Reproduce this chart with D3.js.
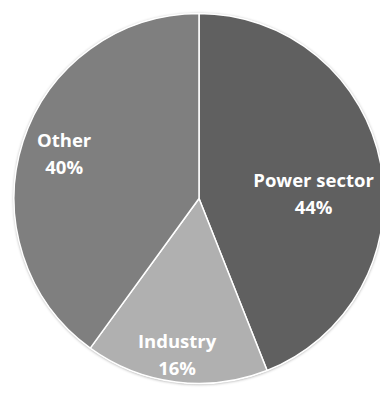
<!DOCTYPE html>
<html>
<head>
<meta charset="utf-8">
<script src="https://cdn.jsdelivr.net/npm/d3@7"></script>
<style>
  html, body { margin: 0; padding: 0; background: #fff; }
  svg { display: block; }
</style>
</head>
<body>
<svg id="chart" width="380" height="393"></svg>
<script>
// Shares by sector (percent)
const categories = ["Power sector", "Industry", "Other"];
const values = [44, 16, 40];
const colors = ["#606060", "#b0b0b0", "#7f7f7f"];
// Label placement inside each slice: angle shift (deg) from the slice middle, radius as fraction of R
const labelLayout = [
  { shift: 8.0, r: 0.62 },
  { shift: 0.8, r: 0.85 },
  { shift: 0.8, r: 0.77 }
];

const width = 380, height = 393;
const cx = 199, cy = 198.5, R = 185;

const svg = d3.select("#chart");

const defs = svg.append("defs");
const shadow = defs.append("filter")
  .attr("id", "soft-shadow")
  .attr("x", "-10%").attr("y", "-10%")
  .attr("width", "120%").attr("height", "120%");
shadow.append("feDropShadow")
  .attr("dx", 0).attr("dy", 0.5)
  .attr("stdDeviation", 1.4)
  .attr("flood-color", "#000")
  .attr("flood-opacity", 0.45);

const g = svg.append("g").attr("transform", `translate(${cx},${cy})`);

const pie = d3.pie().sort(null).value(d => d.value);
const data = categories.map((c, i) => ({ name: c, value: values[i], color: colors[i] }));
const arcs = pie(data);

const arc = d3.arc().innerRadius(0).outerRadius(R);

// Disc behind slices carries the soft outer shadow
g.append("circle")
  .attr("r", R)
  .attr("fill", "#fff")
  .attr("filter", "url(#soft-shadow)");

g.selectAll("path.slice")
  .data(arcs)
  .join("path")
  .attr("class", "slice")
  .attr("d", arc)
  .attr("fill", d => d.data.color)
  .attr("stroke", "#fff")
  .attr("stroke-width", 1.5)
  .attr("stroke-linejoin", "round");

const fmt = d3.format(".0f");
const total = d3.sum(values);

const labels = g.selectAll("text.label")
  .data(arcs)
  .join("text")
  .attr("class", "label")
  .attr("text-anchor", "middle")
  .attr("fill", "#fff")
  .attr("font-family", "'Open Sans', sans-serif")
  .attr("font-weight", "bold")
  .attr("font-size", 18.5)
  .attr("transform", (d, i) => {
    const lay = labelLayout[i];
    const a = (d.startAngle + d.endAngle) / 2 + lay.shift * Math.PI / 180;
    const r = lay.r * R;
    return `translate(${r * Math.sin(a)},${-r * Math.cos(a)})`;
  });

labels.append("tspan")
  .attr("x", 0)
  .attr("y", -6)
  .text(d => d.data.name);
labels.append("tspan")
  .attr("x", 0)
  .attr("y", 21)
  .text(d => fmt(d.data.value / total * 100) + "%");
</script>
</body>
</html>
